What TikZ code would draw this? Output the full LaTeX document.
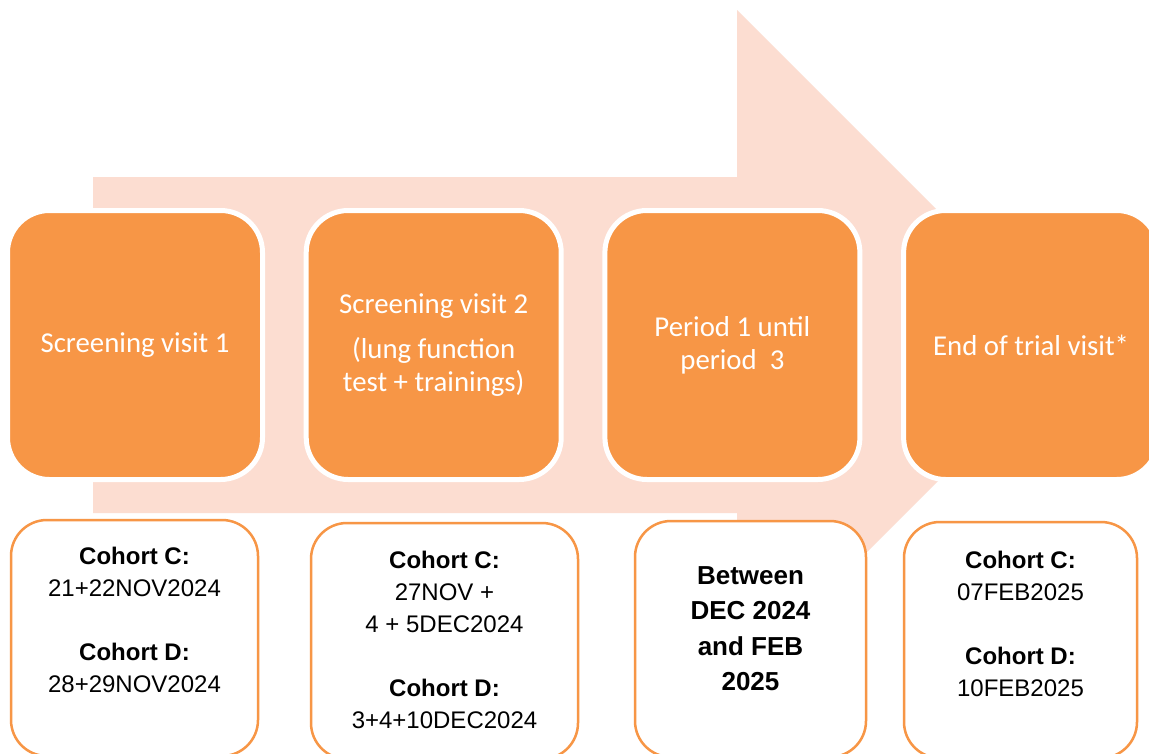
\documentclass[tikz,border=0pt]{standalone}
\usepackage{fontspec}
\setmainfont{Liberation Sans}
\newfontfamily\carlito{Carlito}
\definecolor{arrowpink}{RGB}{252,221,209}
\definecolor{boxorange}{RGB}{247,150,70}
\begin{document}
\begin{tikzpicture}[x=1pt,y=-1pt,
  phase/.style={draw=white, line width=5pt, fill=boxorange, rounded corners=42pt,
    minimum width=255pt, minimum height=269pt, inner sep=0pt, outer sep=0pt,
    text=white, align=center, font=\carlito\fontsize{28.8}{33}\selectfont},
  datebox/.style={draw=boxorange, line width=2.5pt, fill=white, rounded corners=36pt,
    inner sep=0pt, outer sep=0pt},
  datetext/.style={align=center, inner sep=0pt, text=black,
    font=\fontsize{24}{32}\selectfont},
  boldtext/.style={align=center, inner sep=0pt, text=black,
    font=\bfseries\fontsize{26}{35.5}\selectfont}]
\useasboundingbox (0,0) rectangle (1149,753);
\clip (0,0) rectangle (1149,753);
\fill[white] (0,0) rectangle (1149,753);
% big background arrow
\fill[arrowpink] (93,177) -- (737,177) -- (737,10) -- (1073,346) -- (737,682)
  -- (737,513) -- (93,513) -- cycle;
% phase boxes
\node[phase] (p1) at (135,345) {Screening visit 1};
\node[phase] (p2) at (433.7,345) {Screening visit 2\\[12pt](lung function\\test + trainings)};
\node[phase] (p3) at (732.4,345) {Period 1 until\\period\ \ 3};
\node[phase] (p4) at (1031.1,345) {End of trial visit*};
% date boxes
\node[datebox, minimum width=247pt, minimum height=236pt] (d1) at (134.5,638) {};
\node[datebox, minimum width=267pt, minimum height=236pt] (d2) at (444.5,641) {};
\node[datebox, minimum width=231pt, minimum height=236pt] (d3) at (750.5,639) {};
\node[datebox, minimum width=233pt, minimum height=236pt] (d4) at (1020.5,640) {};
% date texts
\node[datetext] (t1) at (134.5,620) {\textbf{Cohort C:}\\21+22NOV2024\\[32pt]\textbf{Cohort D:}\\28+29NOV2024};
\node[datetext] (t2) at (444.5,639.5) {\textbf{Cohort C:}\\27NOV +\\4 + 5DEC2024\\[32pt]\textbf{Cohort D:}\\3+4+10DEC2024};
\node[boldtext] (t3) at (750.5,628.5) {Between\\DEC 2024\\and FEB\\2025};
\node[datetext] (t4) at (1020.5,623.5) {\textbf{Cohort C:}\\07FEB2025\\[32pt]\textbf{Cohort D:}\\10FEB2025};
\end{tikzpicture}
\end{document}
